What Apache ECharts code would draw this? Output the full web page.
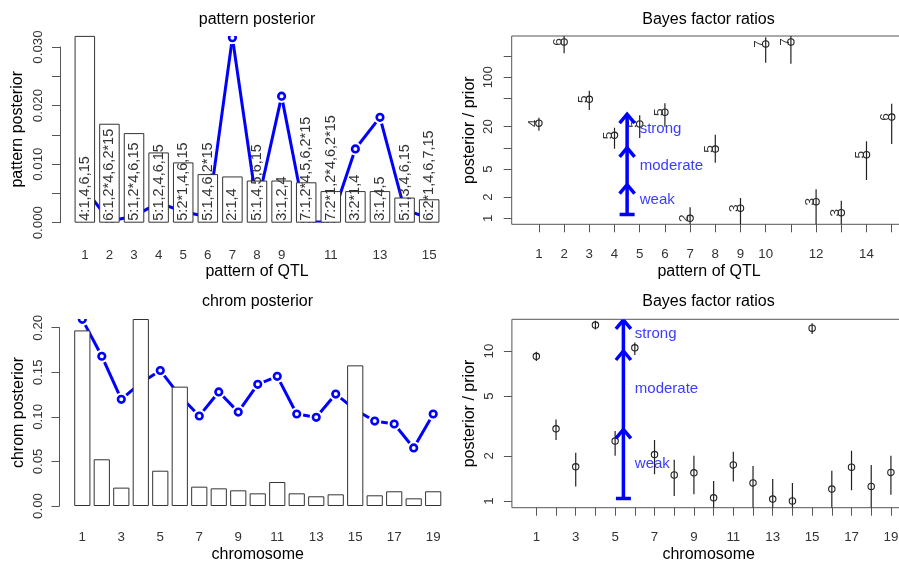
<!DOCTYPE html>
<html><head><meta charset="utf-8">
<script src="https://cdn.jsdelivr.net/npm/echarts@6/dist/echarts.min.js"></script>
<style>html,body{margin:0;padding:0;background:#fff}#c{width:899px;height:564px}</style>
</head><body><div id="c"></div>
<script>
// ---------------- data ----------------
const patternIds = [1,2,3,4,5,6,7,8,9,10,11,12,13,14,15];
const patternLabels = ['4:1,4,6,15','6:1,2*4,6,2*15','5:1,2*4,6,15','5:1,2,4,6,15','5:2*1,4,6,15',
  '5:1,4,6,2*15','2:1,4','5:1,4,5,6,15','3:1,2,4','7:1,2*4,5,6,2*15','7:2*1,2*4,6,2*15',
  '3:2*1,4','3:1,4,5','5:1,3,4,6,15','6:2*1,4,6,7,15'];
const patternPosterior = [0.0319,0.0169,0.0153,0.0120,0.0103,0.0083,0.0079,0.0072,0.0072,0.0069,0.0054,0.0054,0.0054,0.0043,0.0040];
const patternPrior = [0.0058,0.0003,0.0011,0.0034,0.0019,0.0010,0.0316,0.0027,0.0216,0.0001,0.0001,0.0126,0.0180,0.0022,0.0008];
const patternNQtl = [4,6,5,5,5,5,2,5,3,7,7,3,3,5,6];
const patternBF   = [22.3,317,48.7,15.0,21.8,31.9,1.0,9.6,1.39,297,317,1.72,1.2,7.98,27.3];
const patternBFlo = [17.5,219,34.4,9.7,13.8,19.9,0.5,6.15,0.5,161,156,0.5,0.5,3.5,11.3];
const patternBFhi = [26.7,500,64.6,19.3,28.9,42.8,1.43,15.3,1.94,369,500,2.58,1.78,12.4,42.2];

const chromIds = [1,2,3,4,5,6,7,8,9,10,11,12,13,14,15,16,17,18,19];
const chromPosterior = [0.197,0.0524,0.0206,0.2098,0.0396,0.1339,0.0217,0.0198,0.0176,0.0142,0.0269,0.0142,0.0109,0.0131,0.1578,0.0120,0.0165,0.0086,0.0165];
const chromPrior = [0.2094,0.168,0.1197,0.138,0.152,0.1237,0.101,0.128,0.1054,0.1365,0.1455,0.1032,0.0995,0.1256,0.108,0.0953,0.092,0.0651,0.1032];
const chromBF   = [9.22,3.03,1.69,14.9,2.51,10.5,2.04,1.49,1.54,1.05,1.74,1.32,1.03,1.0,14.2,1.20,1.68,1.25,1.55];
const chromBFlo = [8.58,2.55,1.25,13.9,2.0,9.4,1.51,1.08,1.11,0.5,1.35,0.5,0.5,0.5,13.0,0.5,1.18,0.5,1.10];
const chromBFhi = [9.9,3.5,2.1,15.9,2.93,11.4,2.55,1.88,2.0,1.36,2.13,1.71,1.40,1.32,15.3,1.59,2.16,1.74,2.0];

const evidenceLabels = ['weak','moderate','strong'];
const arrowBreaksTR = [1.13,3,10,30];
const arrowBreaksBR = [1.04,3,10,16.1];
const evidenceYTR = [1.8,5.5,18.5];
const evidenceYBR = [1.76,5.6,13.1];
const arrowXTR = 4.5, textXTR = 5;
const arrowXBR = 5.42, textXBR = 6;

const tlXLabels = [1,2,3,4,5,6,7,8,9,11,13,15];
const tlYTicks = [0,0.005,0.01,0.015,0.02,0.025,0.03];
const tlYLabels = [0,0.01,0.02,0.03];
const trXLabels = [1,2,3,4,5,6,7,8,9,10,12,14];
const trYTicks = [1,2,5,10,20,50,100,200];
const trYLabels = [1,2,5,20,100];
const blXLabels = [1,3,5,7,9,11,13,15,17,19];
const blYTicks = [0,0.05,0.10,0.15,0.20];
const brXLabels = [1,3,5,7,9,11,13,15,17,19];
const brYTicks = [1,2,5,10];

// ---------------- helpers ----------------
const FONT = 'Liberation Sans, Arial, sans-serif';
const BLUE = '#0000ff';
const AX = '#555';
const TICKC = '#333';

function clipRect(params) {
  const c = params.coordSys;
  return {type:'rect', shape:{x:c.x, y:c.y, width:c.width, height:c.height}};
}
function withNext(xs, ys) {
  return xs.map((x, i) => {
    const j = i < xs.length - 1 ? i + 1 : i;
    return [x, ys[i], xs[j], ys[j]];
  });
}
function blueLineItem(params, api) {
  const p = api.coord([api.value(0), api.value(1)]);
  const q = api.coord([api.value(2), api.value(3)]);
  const ch = [{type:'circle', shape:{cx:p[0], cy:p[1], r:3.3},
    style:{fill:'none', stroke:BLUE, lineWidth:2.6}}];
  const dx = q[0]-p[0], dy = q[1]-p[1], d = Math.hypot(dx, dy), g = 6.5;
  if (d > 2*g) {
    ch.push({type:'line', shape:{x1:p[0]+dx*g/d, y1:p[1]+dy*g/d, x2:q[0]-dx*g/d, y2:q[1]-dy*g/d},
      style:{stroke:BLUE, lineWidth:3, lineCap:'butt'}});
  }
  return {type:'group', clipPath:clipRect(params), children: ch};
}
function bfItem(withLabel) {
  return function (params, api) {
    const x = api.value(0);
    const p = api.coord([x, api.value(1)]);
    const lo = api.coord([x, api.value(2)]);
    const hi = api.coord([x, api.value(3)]);
    const ch = [
      {type:'line', shape:{x1:lo[0], y1:lo[1], x2:hi[0], y2:hi[1]}, style:{stroke:'#222', lineWidth:1.2}},
      {type:'circle', shape:{cx:p[0], cy:p[1], r:3.2}, style:{fill:'none', stroke:'#222', lineWidth:1.1}}
    ];
    if (withLabel) {
      ch.push({type:'text', x:p[0]+1, y:p[1], rotation:Math.PI/2,
        style:{text:String(api.value(4)), fill:'#333', fontSize:13.5, fontFamily:FONT, align:'center', verticalAlign:'bottom'}});
    }
    return {type:'group', clipPath:clipRect(params), children: ch};
  };
}
function arrowItem(params, api) {
  const x = api.value(0);
  const a = api.coord([x, api.value(1)]);
  const b = api.coord([x, api.value(2)]);
  const t = api.coord([api.value(3), api.value(4)]);
  const ch = [
    {type:'line', shape:{x1:a[0], y1:a[1], x2:b[0], y2:b[1]}, style:{stroke:BLUE, lineWidth:3.5}},
    {type:'polyline', shape:{points:[[b[0]-7.5, b[1]+9],[b[0], b[1]],[b[0]+7.5, b[1]+9]]},
      style:{stroke:BLUE, lineWidth:3.5, fill:'none', lineJoin:'miter'}},
    {type:'text', x:t[0], y:t[1], style:{text:evidenceLabels[params.dataIndex], fill:'#3c3cff',
      fontSize:15, fontFamily:FONT, align:'left', verticalAlign:'middle'}}
  ];
  if (params.dataIndex === 0) {
    ch.push({type:'line', shape:{x1:a[0]-7.5, y1:a[1], x2:a[0]+7.5, y2:a[1]}, style:{stroke:BLUE, lineWidth:3.5}});
  }
  return {type:'group', clipPath:clipRect(params), children: ch};
}
function arrowData(xArrow, breaks, xText, ys) {
  return evidenceLabels.map((_, k) => [xArrow, breaks[k], breaks[k+1], xText, ys[k]]);
}

// ---------------- layout ----------------
const grids = [
  {left:60,    top:35.9,  width:394,   height:186.8},   // 0 TL data
  {left:60,    top:47,    width:394,   height:175.7},   // 1 TL y ticks
  {left:511.7, top:36,    width:394.6, height:188.3, show:true, borderColor:AX, borderWidth:1}, // 2 TR
  {left:511.7, top:36,    width:394.6, height:188.3},   // 3 TR y ticks
  {left:59.5,  top:319,   width:396.5, height:187},     // 4 BL data
  {left:59.5,  top:327.7, width:396.5, height:178.3},   // 5 BL y ticks
  {left:511.9, top:319.3, width:393.6, height:188.4, show:true, borderColor:AX, borderWidth:1}, // 6 BR
  {left:511.9, top:319.3, width:393.6, height:188.4}    // 7 BR y ticks
].map(g => Object.assign({containLabel:false, outerBoundsMode:'none'}, g));

const tickLabelStyle = {fontSize:13.3, color:TICKC, fontFamily:FONT};
const nameStyle = {fontSize:16, color:'#000', fontFamily:FONT};

function hiddenX(gi) { return {gridIndex:gi, type:'value', show:false, min:0, max:1}; }
function nameOnlyY(gi, type, min, max, name, gap) {
  return {gridIndex:gi, type, min, max, name, nameLocation:'middle', nameGap:gap, nameTextStyle:nameStyle,
    nameMoveOverlap:false,
    axisLine:{show:false}, axisTick:{show:false}, axisLabel:{show:false}, splitLine:{show:false}, minorTick:{show:false}};
}
function tickY(gi, min, max, ticks, labels, fmt, margin, showLine) {
  return {gridIndex:gi, type:'value', min, max,
    axisLine:{show:showLine, lineStyle:{color:AX, width:1}},
    axisTick:{show:true, length:8, inside:false, customValues:ticks, lineStyle:{color:AX, width:1}},
    axisLabel:Object.assign({show:true, customValues:labels, formatter:fmt, rotate:90, margin, hideOverlap:false}, tickLabelStyle),
    splitLine:{show:false}};
}
function dataX(gi, min, max, labels, margin, name, gap, ticks) {
  return {gridIndex:gi, type:'value', min, max, name, nameLocation:'middle', nameGap:gap, nameTextStyle:nameStyle,
    nameMoveOverlap:false,
    axisLine:{show:false},
    axisTick:ticks ? {show:true, length:8, inside:false, customValues:ticks, lineStyle:{color:AX, width:1}} : {show:false},
    axisLabel:Object.assign({show:true, customValues:labels, margin, hideOverlap:false}, tickLabelStyle),
    splitLine:{show:false}};
}

const lg = Math.log10;
const trMin = 0.822, trMax = 385;
const brMin = 0.902, brMax = 16.27;

const option = {
  animation:false,
  backgroundColor:'#fff',
  textStyle:{fontFamily:FONT},
  title:[
    {text:'pattern posterior',  left:257,   top:12,    textAlign:'center'},
    {text:'Bayes factor ratios', left:708.5, top:11.5,  textAlign:'center'},
    {text:'chrom posterior',    left:257.5, top:293.7, textAlign:'center'},
    {text:'Bayes factor ratios', left:708.5, top:293.7, textAlign:'center'}
  ].map(t => Object.assign({padding:0, textStyle:{fontSize:16, fontWeight:'normal', color:'#000', fontFamily:FONT}}, t)),
  grid: grids,
  xAxis:[
    dataX(0, -0.01, 16.01, tlXLabels, 26, 'pattern of QTL', 41, null),
    hiddenX(1),
    dataX(2, -0.08, 15.58, trXLabels, 24, 'pattern of QTL', 39.4, patternIds),
    hiddenX(3),
    dataX(4, -0.17, 20.17, blXLabels, 24.6, 'chromosome', 41, null),
    hiddenX(5),
    dataX(6, -0.24, 19.74, brXLabels, 23, 'chromosome', 39.3, chromIds),
    hiddenX(7)
  ],
  yAxis:[
    nameOnlyY(0, 'value', 0, 0.0319, 'pattern posterior', 34),
    tickY(1, 0, 0.03, tlYTicks, tlYLabels, v => v.toFixed(3), 15, true),
    nameOnlyY(2, 'log', trMin, trMax, 'posterior / prior', 34.4),
    tickY(3, lg(trMin), lg(trMax), trYTicks.map(lg), trYLabels.map(lg), v => String(Math.round(Math.pow(10, v))), 16.5, false),
    nameOnlyY(4, 'value', 0, 0.2098, 'chrom posterior', 33.2),
    tickY(5, 0, 0.2, blYTicks, blYTicks, v => v.toFixed(2), 14.5, true),
    nameOnlyY(6, 'log', brMin, brMax, 'posterior / prior', 34),
    tickY(7, lg(brMin), lg(brMax), brYTicks.map(lg), brYTicks.map(lg), v => String(Math.round(Math.pow(10, v))), 16.5, false)
  ],
  series:[
    {type:'bar', xAxisIndex:0, yAxisIndex:0, barWidth:20.5, silent:true,
      data: patternIds.map((x, i) => [x, patternPosterior[i]]),
      itemStyle:{color:'#fff', borderColor:'#333', borderWidth:1},
      label:{show:true, position:'insideBottom', distance:2, rotate:90, align:'left', verticalAlign:'middle',
        formatter: p => patternLabels[p.dataIndex], fontSize:14.5, color:'#333', fontFamily:FONT}},
    {type:'custom', xAxisIndex:0, yAxisIndex:0, clip:true, silent:true, encode:{x:0, y:1},
      data: withNext(patternIds, patternPrior), renderItem: blueLineItem},
    {type:'custom', xAxisIndex:2, yAxisIndex:2, clip:true, silent:true, encode:{x:0, y:1},
      data: patternIds.map((x, i) => [x, patternBF[i], patternBFlo[i], patternBFhi[i], patternNQtl[i]]),
      renderItem: bfItem(true)},
    {type:'custom', xAxisIndex:2, yAxisIndex:2, clip:true, silent:true, encode:{x:0, y:1},
      data: arrowData(arrowXTR, arrowBreaksTR, textXTR, evidenceYTR), renderItem: arrowItem},
    {type:'bar', xAxisIndex:4, yAxisIndex:4, barWidth:16.2, silent:true,
      data: chromIds.map((x, i) => [x, chromPosterior[i]]),
      itemStyle:{color:'#fff', borderColor:'#333', borderWidth:1}},
    {type:'custom', xAxisIndex:4, yAxisIndex:4, clip:true, silent:true, encode:{x:0, y:1},
      data: withNext(chromIds, chromPrior), renderItem: blueLineItem},
    {type:'custom', xAxisIndex:6, yAxisIndex:6, clip:true, silent:true, encode:{x:0, y:1},
      data: chromIds.map((x, i) => [x, chromBF[i], chromBFlo[i], chromBFhi[i], 0]),
      renderItem: bfItem(false)},
    {type:'custom', xAxisIndex:6, yAxisIndex:6, clip:true, silent:true, encode:{x:0, y:1},
      data: arrowData(arrowXBR, arrowBreaksBR, textXBR, evidenceYBR), renderItem: arrowItem}
  ]
};
const chart = echarts.init(document.getElementById('c'), null, {renderer:'canvas'});
chart.setOption(option);
</script>
</body></html>
